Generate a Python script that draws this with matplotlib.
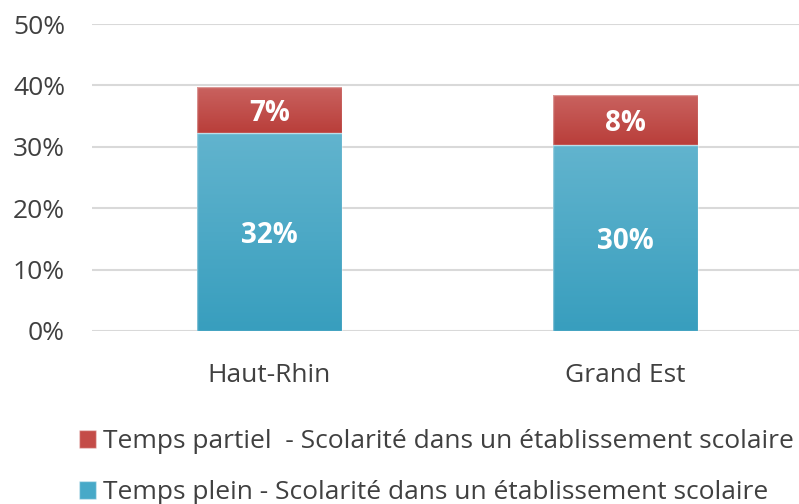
import numpy as np
import matplotlib.pyplot as plt
from matplotlib.colors import LinearSegmentedColormap
from matplotlib.patches import Patch

plt.rcParams['font.family'] = ['Open Sans', 'DejaVu Sans']

# -----------------------------------------------------------------------
# Donnees
# -----------------------------------------------------------------------
categories = ["Haut-Rhin", "Grand Est"]
plein = [32.3, 30.3]      # Temps plein
partiel = [7.4, 8.1]      # Temps partiel
label_plein = "Temps plein - Scolarité dans un établissement scolaire"
label_partiel = "Temps partiel  - Scolarité dans un établissement scolaire"
yticks = [0, 10, 20, 30, 40, 50]

BLUE_TOP, BLUE_BOT = "#62b4ce", "#389ebe"
RED_TOP, RED_BOT = "#c9625f", "#b93e3a"
TXT = "#404040"

fig = plt.figure(figsize=(7.99, 5.04), dpi=100)
ax = fig.add_axes([91.5 / 799, 173 / 504, (799 - 91.5) / 799, 307 / 504])

x = np.arange(len(categories))
width = 0.407


def gradient_bar(ax, xc, bottom, height, top_c, bot_c):
    cmap = LinearSegmentedColormap.from_list("g", [bot_c, top_c])
    grad = np.linspace(0, 1, 256).reshape(-1, 1)
    ax.imshow(grad, cmap=cmap, origin="lower", aspect="auto",
              extent=[xc - width / 2, xc + width / 2, bottom, bottom + height],
              zorder=2, interpolation="bicubic")
    ax.bar(xc, height, width, bottom=bottom, facecolor="none",
           edgecolor=(1, 1, 1, 0.35), linewidth=1, zorder=3)


for i in range(len(categories)):
    gradient_bar(ax, x[i], 0, plein[i], BLUE_TOP, BLUE_BOT)
    gradient_bar(ax, x[i], plein[i], partiel[i], RED_TOP, RED_BOT)
    ax.text(x[i], plein[i] / 2, f"{plein[i]:.0f}%", ha="center", va="center_baseline",
            color="white", fontsize=20, fontweight="bold", zorder=4)
    ax.text(x[i], plein[i] + partiel[i] / 2, f"{partiel[i]:.0f}%", ha="center",
            va="center_baseline", color="white", fontsize=20, fontweight="bold", zorder=4)

ax.set_xlim(-0.5, -0.5 + (799 - 91.5) / 356)
ax.set_ylim(0, 50)
ax.set_yticks(yticks)
ax.set_yticklabels([f"{v}%" for v in yticks], fontsize=19, color=TXT)
ax.set_xticks(x)
ax.set_xticklabels(categories, fontsize=19, color=TXT)
ax.tick_params(axis="both", length=0)
ax.tick_params(axis="y", pad=19)
ax.tick_params(axis="x", pad=23)
ax.grid(axis="y", color="#d9d9d9", linewidth=1.5, zorder=0)
ax.set_axisbelow(True)
for s in ax.spines.values():
    s.set_visible(False)

handles = [Patch(facecolor="#c44c48", edgecolor=(1, 1, 1, 0.4), label=label_partiel),
           Patch(facecolor="#47a9c8", edgecolor=(1, 1, 1, 0.4), label=label_plein)]
fig.legend(handles=handles, loc="upper left", bbox_to_anchor=(79 / 799, 1 - 429 / 504),
           frameon=False, fontsize=19, labelcolor=TXT, handlelength=0.66,
           handleheight=0.66, handletextpad=0.25, labelspacing=1.0, borderaxespad=0,
           borderpad=0)

plt.savefig("out.png", dpi=100)
